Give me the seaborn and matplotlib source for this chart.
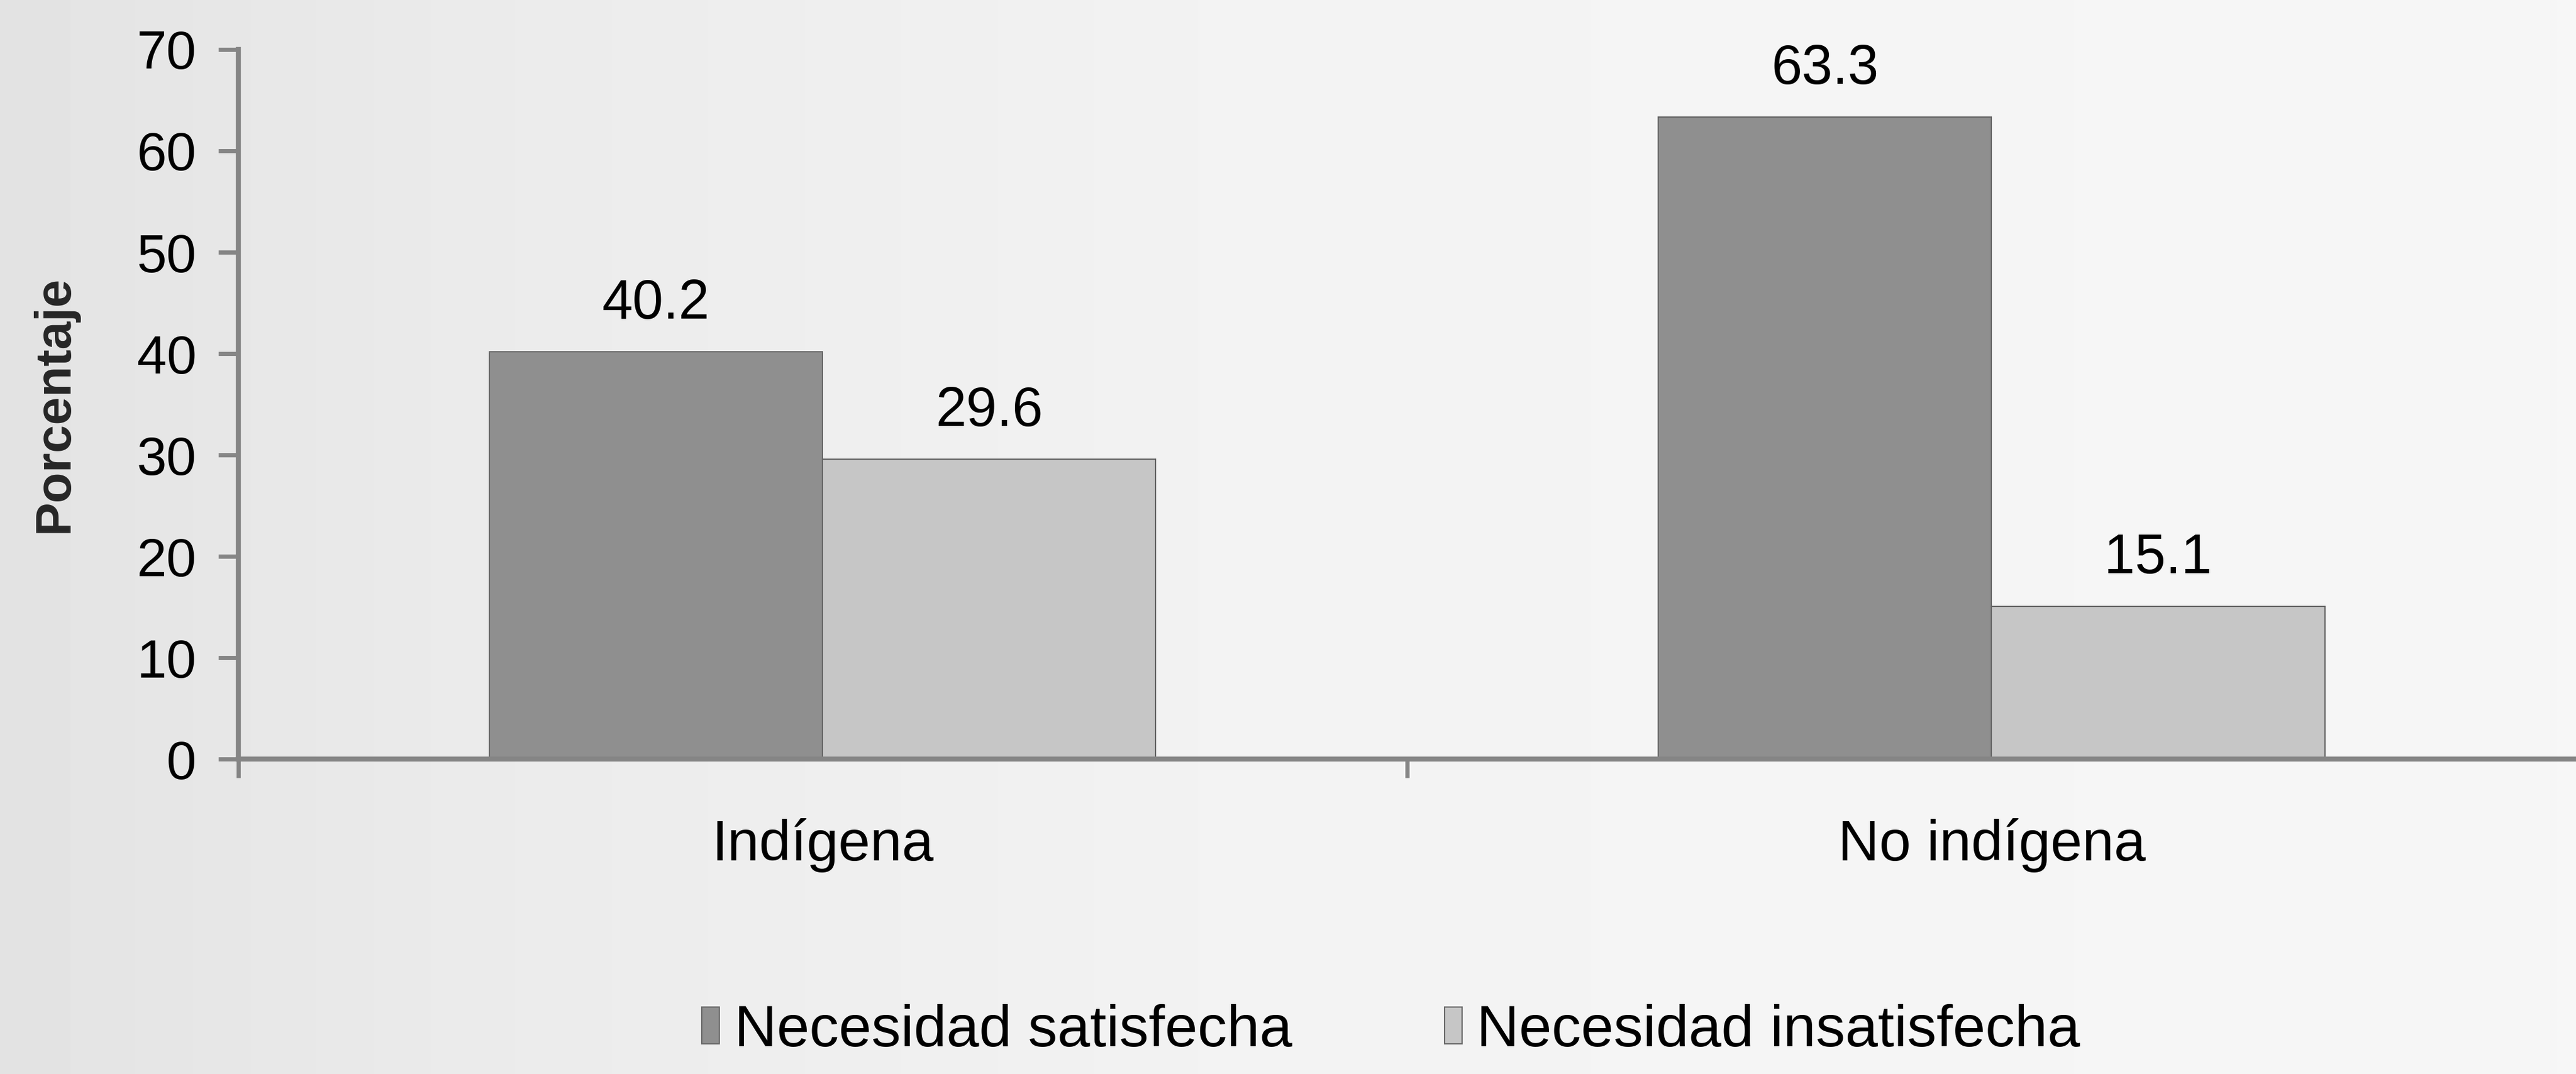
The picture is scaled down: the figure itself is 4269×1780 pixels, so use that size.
import pandas as pd
import numpy as np
import matplotlib
matplotlib.use('Agg')
import matplotlib.pyplot as plt
import seaborn as sns

# Datos del grafico
grupos = ['Indígena', 'No indígena']
series = ['Necesidad satisfecha', 'Necesidad insatisfecha']
satisfecha = [40.2, 63.3]
insatisfecha = [29.6, 15.1]
yticks = [0, 10, 20, 30, 40, 50, 60, 70]

df = pd.DataFrame({
    'grupo': grupos * 2,
    'tipo': [series[0]] * 2 + [series[1]] * 2,
    'valor': satisfecha + insatisfecha,
})

sns.set_style('white')
plt.rcParams['font.family'] = ['Liberation Sans', 'DejaVu Sans']
plt.rcParams['text.color'] = 'black'
plt.rcParams['xtick.color'] = 'black'
plt.rcParams['ytick.color'] = 'black'

axis_col = '#858585'

fig = plt.figure(figsize=(42.69, 17.80), dpi=100, facecolor='#f3f3f3')

# fondo gris del papel escaneado (mas oscuro a la izquierda)
bg_ax = fig.add_axes([0, 0, 1, 1], zorder=-10)
grad = np.interp(np.linspace(0, 1, 400), [0, 0.18, 0.52, 1], [0.89, 0.92, 0.955, 0.965])
bg_ax.imshow(np.tile(grad, (2, 1)), cmap='gray', vmin=0, vmax=1, aspect='auto',
             extent=[0, 1, 0, 1])
bg_ax.axis('off')

ax = fig.add_axes([0.0925, 0.293, 0.9075, 0.661])
ax.patch.set_alpha(0)

sns.barplot(data=df, x='grupo', y='valor', hue='tipo', order=grupos,
            hue_order=series, palette=['#8f8f8f', '#c6c6c6'], width=0.57,
            gap=0, edgecolor='#666666', linewidth=1.5, saturation=1,
            legend=True, ax=ax)

# Etiquetas de valor
for cont in ax.containers:
    ax.bar_label(cont, fmt='%.1f', padding=26, fontsize=66)

ax.set_xlim(-0.5, 1.5)
ax.set_ylim(0, 70)
ax.set_yticks(yticks)
ax.tick_params(axis='y', labelsize=64, length=24, width=5, color=axis_col,
               direction='out', pad=26, left=True)
ax.set_xticks([0, 1])
ax.set_xticklabels(grupos)
ax.tick_params(axis='x', which='major', length=0, labelsize=68, pad=70)
ax.set_xticks([-0.5, 0.5], minor=True)
ax.tick_params(axis='x', which='minor', length=22, width=5, color=axis_col,
               direction='out', bottom=True)

ax.set_ylabel('Porcentaje', fontsize=60, fontweight='bold', labelpad=70)
ax.set_xlabel('')

for s in ['top', 'right']:
    ax.spines[s].set_visible(False)
for s in ['left', 'bottom']:
    ax.spines[s].set_color(axis_col)
    ax.spines[s].set_linewidth(6)

# Leyenda abajo
handles, labels = ax.get_legend_handles_labels()
ax.legend_.remove()
fig.legend(handles, labels, loc='center', bbox_to_anchor=(0.54, 0.04),
           ncol=2, frameon=False, fontsize=70, handlelength=0.3,
           handleheight=0.6, handletextpad=0.25, columnspacing=2.6)

plt.savefig('out.png', dpi=100, facecolor=fig.get_facecolor())
